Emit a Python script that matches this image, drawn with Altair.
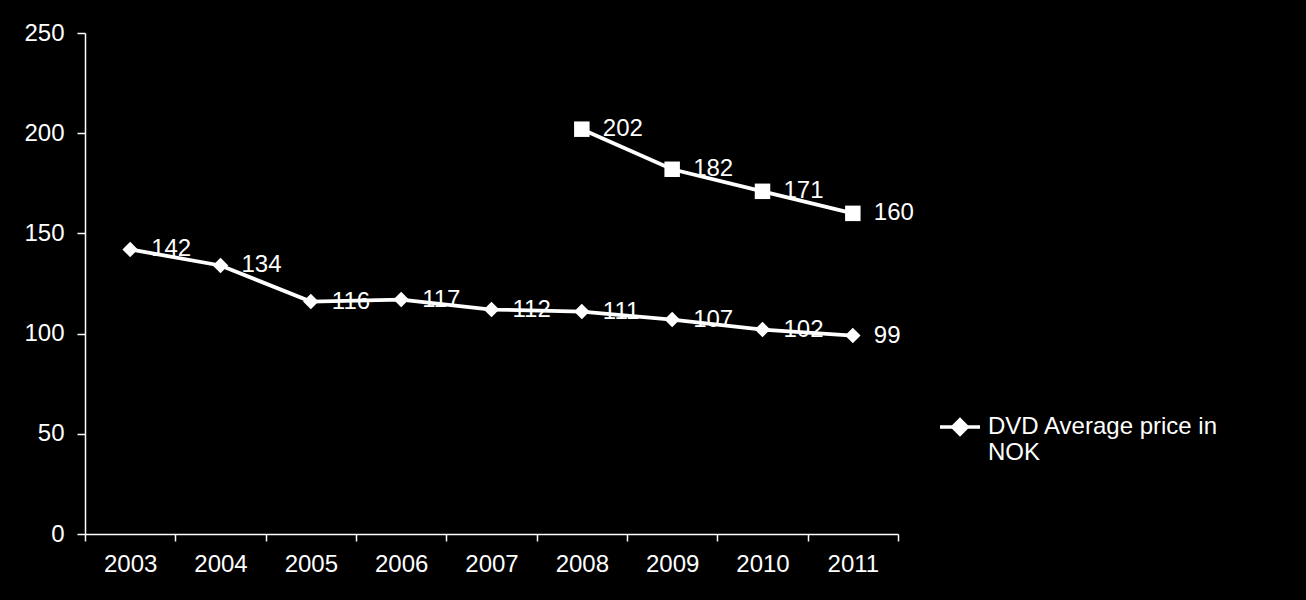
import altair as alt
import pandas as pd

years = ["2003", "2004", "2005", "2006", "2007", "2008", "2009", "2010", "2011"]
dvd_price = [142, 134, 116, 117, 112, 111, 107, 102, 99]
bluray_years = ["2008", "2009", "2010", "2011"]
bluray_price = [202, 182, 171, 160]
dvd_name = "DVD Average price in NOK"
y_ticks = [0, 50, 100, 150, 200, 250]

FONT = "Liberation Sans"

dvd = pd.DataFrame({"year": years, "price": dvd_price, "series": dvd_name})
br = pd.DataFrame({"year": bluray_years, "price": bluray_price})

x = alt.X(
    "year:O",
    scale=alt.Scale(type="band", domain=years, paddingInner=0, paddingOuter=0),
    axis=alt.Axis(title=None, labelAngle=0, tickBand="extent", tickSize=7,
                  labelPadding=11, labelFontSize=24),
)
y = alt.Y(
    "price:Q",
    scale=alt.Scale(domain=[0, 250], nice=False),
    axis=alt.Axis(title=None, values=y_ticks, tickSize=8, labelPadding=13,
                  labelFontSize=24, grid=False),
)

legend_path = "M-1,0L1,0M0,-0.36L0.36,0L0,0.36L-0.36,0Z"

dvd_line = alt.Chart(dvd).mark_line(strokeWidth=3.8).encode(
    x=x, y=y,
    color=alt.Color(
        "series:N",
        scale=alt.Scale(domain=[dvd_name], range=["white"]),
        legend=alt.Legend(
            title=None, orient="none", legendX=853, legendY=372,
            symbolType=legend_path, symbolSize=1600, symbolStrokeWidth=3.5,
            symbolFillColor="white", symbolStrokeColor="white",
            labelExpr="['DVD Average price in', 'NOK']",
            labelFontSize=24, labelColor="white", labelFont=FONT,
            labelOffset=6, padding=0, labelLimit=400,
        ),
    ),
)
dvd_pts = alt.Chart(dvd).mark_point(
    shape="diamond", filled=True, size=240, color="white", opacity=1
).encode(x=x, y=y)
dvd_text = alt.Chart(dvd).mark_text(
    align="left", baseline="middle", dx=21, fontSize=24, color="white", font=FONT
).encode(x=x, y=y, text="price:Q")

br_line = alt.Chart(br).mark_line(strokeWidth=3.8, color="white").encode(x=x, y=y)
br_pts = alt.Chart(br).mark_point(
    shape="square", filled=True, size=240, color="white", opacity=1
).encode(x=x, y=y)
br_text = alt.Chart(br).mark_text(
    align="left", baseline="middle", dx=21, fontSize=24, color="white", font=FONT
).encode(x=x, y=y, text="price:Q")

chart = (
    alt.layer(dvd_line, dvd_pts, dvd_text, br_line, br_pts, br_text)
    .properties(
        width=813, height=501,
        autosize=alt.AutoSizeParams(type="none"),
        padding={"left": 85, "top": 33, "right": 408, "bottom": 66},
        background="black",
    )
    .configure_view(stroke=None)
    .configure_axis(
        domainColor="white", tickColor="white", labelColor="white",
        labelFont=FONT, domainWidth=1.5, tickWidth=1.5,
    )
)

chart.save("out.html", embed_options={"renderer": "svg", "actions": False})
